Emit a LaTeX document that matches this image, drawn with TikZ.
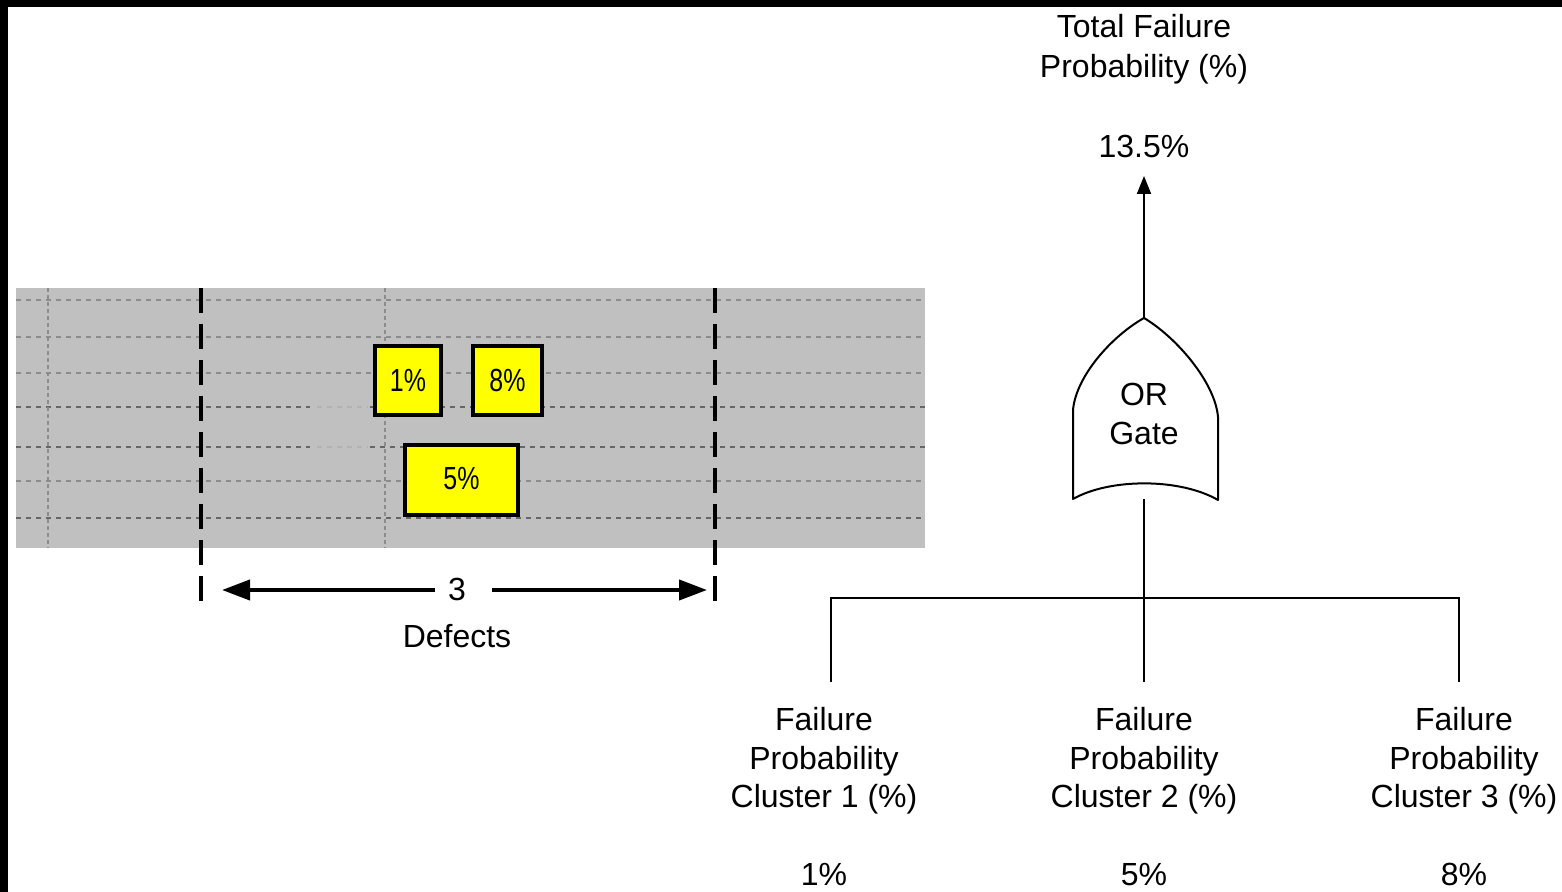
\documentclass[tikz,border=0pt]{standalone}
\usepackage{fontspec}
\setmainfont{Liberation Sans}
\usepackage{graphicx}
\usetikzlibrary{arrows.meta}

\definecolor{bandgray}{HTML}{C0C0C0}
\definecolor{gridlight}{HTML}{8C8C8C}
\definecolor{griddark}{HTML}{666666}
\definecolor{gridfaint}{HTML}{B2B2B2}
\definecolor{boxyellow}{HTML}{FFFF00}

\tikzset{
  txt/.style={inner sep=0pt, anchor=base, font=\fontsize{16}{19}\selectfont},
  pctbox/.style={draw=black, line width=2pt, fill=boxyellow, inner sep=0pt,
                 font=\fontsize{16}{19}\selectfont},
  hgrid/.style={draw=gridlight, line width=0.8pt, dash pattern=on 2.5pt off 2.5pt},
  hgriddark/.style={hgrid, draw=griddark, line width=1pt},
  hgridfaint/.style={hgrid, draw=gridfaint},
  vgrid/.style={draw=gridlight, line width=0.7pt, dash pattern=on 2pt off 1.5pt},
  limit/.style={draw=black, line width=1.75pt, dash pattern=on 12.5pt off 5.5pt},
  limitbold/.style={limit, line width=2.3pt},
  wire/.style={draw=black, line width=1pt},
  dimarrow/.style={draw=black, line width=2pt, -{Triangle[length=14pt,width=10pt]}},
  uparrow/.style={wire, -{Triangle[length=9pt,width=7pt]}}
}
\newcommand{\narrowtext}[1]{\scalebox{0.78}[1]{#1}}

\begin{document}
\begin{tikzpicture}[x=0.5pt,y=-0.5pt]
  \useasboundingbox (0,0) rectangle (1562,892);
  \fill[white] (0,0) rectangle (1562,892);
  % dark frame edges
  \fill[black] (0,0) rectangle (1562,7);
  \fill[black] (0,0) rectangle (8,892);

  % ---------------- strip with defect grid ----------------
  \fill[bandgray] (16,288) rectangle (925,548);
  \foreach \y in {300,337,373,481}
    \draw[hgrid] (16,\y) -- (925,\y);
  \foreach \y in {407,447}{
    \draw[hgriddark] (16,\y) -- (310,\y);
    \draw[hgridfaint] (317,\y) -- (368,\y);
    \draw[hgriddark] (370,\y) -- (925,\y);
  }
  \draw[hgriddark] (16,518) -- (925,518);
  \foreach \x in {48,385}
    \draw[vgrid] (\x,288) -- (\x,548);

  % limits of the defect cluster
  \coordinate (limAtop) at (201,288);
  \coordinate (limAbot) at (201,602);
  \coordinate (limBtop) at (715,288);
  \coordinate (limBbot) at (715,602);
  \draw[limit] (limAtop) -- (limAbot);
  \draw[limitbold] (limBtop) -- (limBbot);

  % defects with their failure probabilities
  \node[pctbox, minimum width=33pt, minimum height=34.5pt] (d1) at (408,380.5) {\narrowtext{1\%}};
  \node[pctbox, minimum width=34.5pt, minimum height=34.5pt] (d8) at (507.5,380.5) {\narrowtext{8\%}};
  \node[pctbox, minimum width=56.5pt, minimum height=35pt] (d5) at (461.5,480) {\raisebox{1.5pt}{\narrowtext{5\%}}};

  % dimension
  \node[txt] (count) at (457,600) {3};
  \node[txt] (defects) at (457,647) {Defects};
  \coordinate (dimLend) at (435,590);
  \coordinate (dimLtip) at (222,590);
  \coordinate (dimRend) at (492,590);
  \coordinate (dimRtip) at (707,590);
  \draw[dimarrow] (dimLend) -- (dimLtip);
  \draw[dimarrow] (dimRend) -- (dimRtip);

  % ---------------- fault tree ----------------
  \node[txt] (totA) at (1144,38) {Total Failure};
  \node[txt] (totB) at (1144,78) {Probability (\%)};
  \node[txt] (totV) at (1144,158) {13.5\%};

  % OR gate symbol
  \draw[wire, line join=round]
    (1144,318) .. controls (1112,336) and (1076,376) .. (1073,410)
    -- (1073,499) .. controls (1110,478) and (1180,478) .. (1218,500)
    -- (1218,417) .. controls (1215,382) and (1176,337) .. (1144,318) -- cycle;
  \node[txt] (gOR) at (1144,406) {OR};
  \node[txt] (gGate) at (1144,445) {Gate};

  \coordinate (gtop) at (1144,318);
  \coordinate (gin) at (1144,499);
  \coordinate (tip) at (1144,176);
  \draw[uparrow] (gtop) -- (tip);

  % inputs
  \coordinate (c1top) at (831,682);
  \coordinate (c2top) at (1144,682);
  \coordinate (c3top) at (1459,682);
  \coordinate (bus) at (1144,598);
  \draw[wire] (gin) -- (c2top);
  \draw[wire] (c1top) |- (bus) -| (c3top);

  \foreach \x/\n/\v in {824/1/1, 1144/2/5, 1464/3/8}{
    \node[txt] (f\n a) at (\x,730) {Failure};
    \node[txt] (f\n b) at (\x,769) {Probability};
    \node[txt] (f\n c) at (\x,807) {Cluster \n\ (\%)};
    \node[txt] (f\n v) at (\x,885) {\v\%};
  }
\end{tikzpicture}
\end{document}
